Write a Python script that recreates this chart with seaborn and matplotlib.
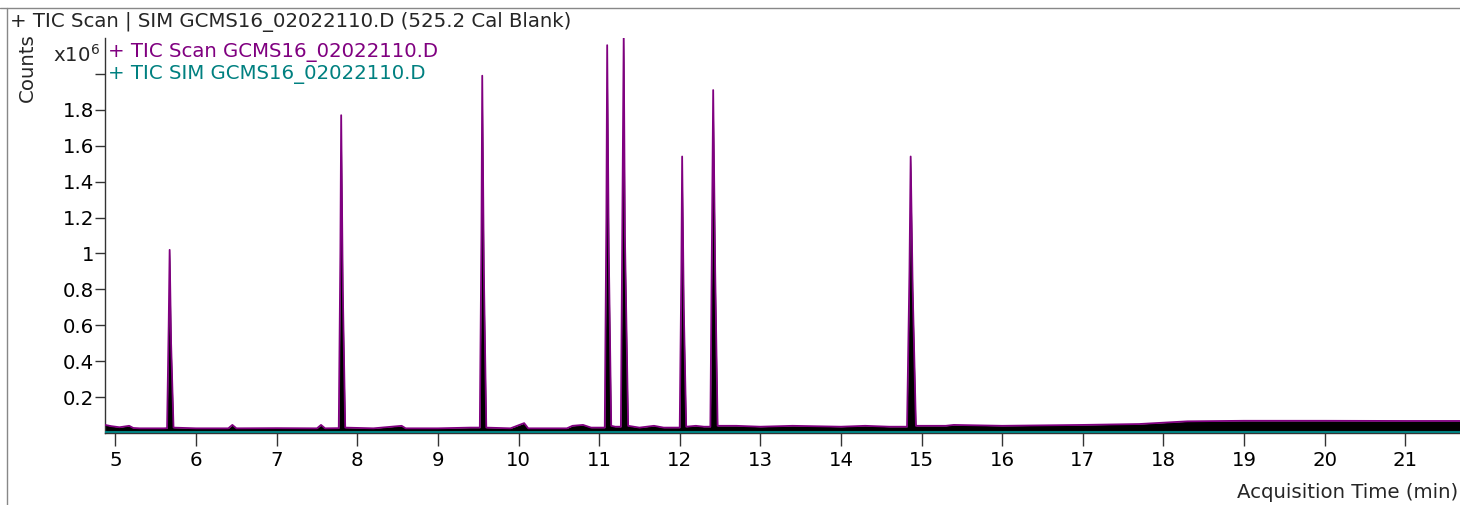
import matplotlib
matplotlib.use("Agg")
import matplotlib.pyplot as plt
from matplotlib.lines import Line2D
import numpy as np
import pandas as pd
import seaborn as sns

# TIC scan trace (counts x10^6)
scan_time = [4.87, 4.95, 5.05, 5.17, 5.22, 5.3, 5.6,
             5.64, 5.66, 5.672, 5.69, 5.72,
             6.0, 6.4, 6.45, 6.5, 7.0, 7.5, 7.55, 7.6,
             7.77, 7.79, 7.80, 7.82, 7.85,
             8.2, 8.55, 8.6, 9.0, 9.4,
             9.52, 9.54, 9.55, 9.57, 9.60,
             9.9, 10.07, 10.12, 10.6, 10.67, 10.8, 10.9,
             11.07, 11.09, 11.10, 11.12, 11.15, 11.2,
             11.27, 11.29, 11.305, 11.32, 11.36,
             11.5, 11.68, 11.8,
             12.0, 12.02, 12.03, 12.05, 12.08, 12.2, 12.3,
             12.38, 12.40, 12.415, 12.44, 12.47,
             12.7, 13.0, 13.4, 14.0, 14.3, 14.6,
             14.82, 14.85, 14.865, 14.89, 14.93,
             15.3, 15.4, 16.0, 17.0, 17.7, 18.3, 19.0, 20.0, 21.0, 21.7]
scan_counts = [0.045, 0.038, 0.032, 0.040, 0.028, 0.026, 0.026,
               0.027, 0.60, 1.02, 0.50, 0.030,
               0.026, 0.026, 0.045, 0.026, 0.027, 0.026, 0.045, 0.026,
               0.027, 1.00, 1.77, 0.80, 0.030,
               0.026, 0.040, 0.026, 0.026, 0.030,
               0.030, 1.10, 1.99, 0.90, 0.030,
               0.026, 0.055, 0.026, 0.026, 0.040, 0.045, 0.030,
               0.030, 1.20, 2.16, 1.00, 0.040, 0.035,
               0.035, 1.30, 2.21, 1.10, 0.040,
               0.030, 0.040, 0.030,
               0.030, 0.90, 1.54, 0.70, 0.035, 0.040, 0.035,
               0.035, 1.10, 1.91, 0.90, 0.040,
               0.040, 0.035, 0.040, 0.035, 0.040, 0.035,
               0.035, 0.90, 1.54, 0.80, 0.040,
               0.040, 0.045, 0.040, 0.045, 0.050, 0.065, 0.068, 0.068, 0.067, 0.067]

# TIC SIM trace (flat near zero)
sim_time = [4.87, 21.7]
sim_counts = [0.008, 0.008]

y_ticks = [0.2, 0.4, 0.6, 0.8, 1.0, 1.2, 1.4, 1.6, 1.8, 2.0]
y_labels = ["0.2", "0.4", "0.6", "0.8", "1", "1.2", "1.4", "1.6", "1.8", ""]
x_ticks = list(range(5, 22))

purple = "#800080"
teal = "#008080"

scan = pd.DataFrame({"time": scan_time, "counts": scan_counts})
sim = pd.DataFrame({"time": sim_time, "counts": sim_counts})

sns.set_style("ticks")
plt.rcParams["font.family"] = ["DejaVu Sans"]

fig = plt.figure(figsize=(14.6, 5.05), dpi=100)
ax = fig.add_axes([105 / 1460, 1 - 433 / 505, 1 - 105 / 1460, (433 - 38) / 505])

ax.fill_between(scan["time"], scan["counts"], 0, color="black", lw=0, zorder=2)
sns.lineplot(data=scan, x="time", y="counts", color=purple, lw=1.3, ax=ax,
             sort=False, zorder=3)
sns.lineplot(data=sim, x="time", y="counts", color=teal, lw=1.5, ax=ax,
             sort=False, zorder=4)

ax.set_xlim(4.87, 21.68)
ax.set_ylim(0, 2.2)
ax.set_xticks(x_ticks)
ax.set_xticklabels([str(t) for t in x_ticks])
ax.set_yticks(y_ticks)
ax.set_yticklabels(y_labels)
ax.set_xlabel("")
ax.set_ylabel("")
ax.tick_params(axis="x", length=9, width=1, pad=4, labelsize=14.2, color="#333333",
               labelcolor="black")
ax.tick_params(axis="y", length=7, width=1, pad=1, labelsize=14.2, color="#333333",
               labelcolor="black")
sns.despine(ax=ax)
for s in ["left", "bottom"]:
    ax.spines[s].set_color("#333333")
    ax.spines[s].set_linewidth(1)

# frame lines
fig.add_artist(Line2D([0, 1], [1 - 8 / 505] * 2, color="#888888", lw=1))
fig.add_artist(Line2D([7 / 1460] * 2, [0, 1 - 8 / 505], color="#888888", lw=1))

fs = 14.2
fig.text(10 / 1460, 1 - 22 / 505, "+ TIC Scan | SIM GCMS16_02022110.D (525.2 Cal Blank)",
         fontsize=fs, va="center", ha="left")
fig.text(100 / 1460, 1 - 55 / 505, r"x10$^6$", fontsize=fs, va="center", ha="right")
fig.text(27 / 1460, 1 - 68 / 505, "Counts", fontsize=fs, va="center", ha="center",
         rotation=90)
fig.text(108 / 1460, 1 - 52 / 505, "+ TIC Scan GCMS16_02022110.D", fontsize=fs,
         color=purple, va="center", ha="left")
fig.text(108 / 1460, 1 - 75 / 505, "+ TIC SIM GCMS16_02022110.D", fontsize=fs,
         color=teal, va="center", ha="left")
fig.text(1458 / 1460, 1 - 493 / 505, "Acquisition Time (min)", fontsize=fs,
         va="center", ha="right")

fig.savefig("out.png", dpi=100)
